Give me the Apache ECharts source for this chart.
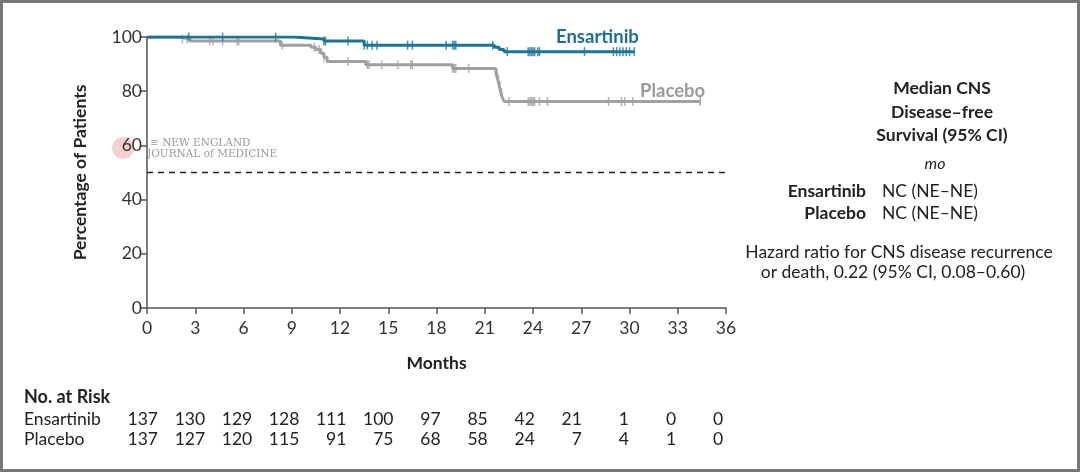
<!DOCTYPE html>
<html>
<head>
<meta charset="utf-8">
<script src="https://cdn.jsdelivr.net/npm/echarts/dist/echarts.min.js"></script>
<style>
  html, body { margin: 0; padding: 0; background: #fff; }
  #chart { width: 1080px; height: 472px; }
</style>
</head>
<body>
<div id="chart"></div>
<script>
// x axis ticks (months)
const months = [0, 3, 6, 9, 12, 15, 18, 21, 24, 27, 30, 33, 36]

// Kaplan-Meier steps: event time (months) and survival (%) after that time
const ensTimes = [0, 9.1, 11.0, 13.5, 21.6, 21.9, 22.2, 30.3]
const ensSurv = [100, 99.3, 98.5, 97.0, 96.2, 95.4, 94.6, 94.6]
const plaTimes = [0, 2.0, 2.7, 8.3, 10.2, 10.5, 10.8, 11.0, 11.2, 13.6, 19.0, 21.7, 21.8, 21.9, 22.0, 22.1, 22.2, 34.4]
const plaSurv = [100, 99.3, 98.5, 97.0, 96.2, 95.4, 94.0, 92.5, 91.0, 89.8, 88.4, 86.5, 84.5, 82.0, 79.5, 77.5, 76.2, 76.2]

// censored observations (months)
const ensCensor = [2.6, 4.7, 8.0, 11.0, 11.1, 12.5, 13.5, 13.7, 14.0, 14.3, 16.2, 16.5, 18.6, 19.0, 19.1, 19.2, 21.5,
  22.4, 23.7, 23.8, 23.9, 24.0, 24.1, 24.3, 24.4, 27.2, 29.0, 29.2, 29.4, 29.6, 29.8, 30.0, 30.3]
const plaCensor = [2.2, 2.5, 3.9, 4.1, 4.7, 5.6, 5.7, 8.4, 10.4, 10.7, 11.0, 12.5, 13.7, 13.8, 14.6, 15.6, 16.4, 16.5,
  19.0, 19.1, 19.2, 20.0, 21.75, 21.85, 21.95, 22.05, 22.5, 23.7, 23.8, 23.9, 24.0, 24.1, 24.4, 24.9, 28.7, 29.5,
  29.7, 30.2, 34.4]

// number at risk
const ensRisk = [137, 130, 129, 128, 111, 100, 97, 85, 42, 21, 1, 0, 0]
const plaRisk = [137, 127, 120, 115, 91, 75, 68, 58, 24, 7, 4, 1, 0]

const BLUE = '#1b759a'
const GREY = '#a0a0a0'
const FONT = 'Lato'
const FS = '17.5px '

// survival value at time t read from the step arrays
function survAt (times, surv, t) {
  let s = surv[0]
  for (let i = 0; i < times.length; i++) {
    if (times[i] <= t) s = surv[i]
  }
  return s
}

const chart = echarts.init(document.getElementById('chart'))

const graphics = []

// frame
graphics.push({
  type: 'rect',
  shape: { x: 1.5, y: 1.5, width: 1077, height: 469 },
  style: { fill: 'none', stroke: '#777', lineWidth: 3 },
  silent: true
})

// watermark
graphics.push({
  type: 'circle',
  shape: { cx: 123, cy: 148, r: 11 },
  style: { fill: 'rgba(225,120,120,0.35)' },
  silent: true
})
graphics.push({ type: 'text', x: 150, y: 143, style: { text: '≡ NEW ENGLAND', font: '10.5px "DejaVu Serif"', fill: '#999', textVerticalAlign: 'middle' } })
graphics.push({ type: 'text', x: 147, y: 154, style: { text: 'JOURNAL of MEDICINE', font: '10.5px "DejaVu Serif"', fill: '#999', textVerticalAlign: 'middle' } })

// series labels
graphics.push({ type: 'text', x: 556, y: 37, style: { text: 'Ensartinib', font: 'bold 18.5px ' + FONT, fill: '#1b6f93', textVerticalAlign: 'middle' } })
graphics.push({ type: 'text', x: 640, y: 91, style: { text: 'Placebo', font: 'bold 18.5px ' + FONT, fill: '#9a9a9a', textVerticalAlign: 'middle' } })

// right panel and table text
const rp = (x, y, text, font, align) => graphics.push({
  type: 'text', x: x, y: y,
  style: { text: text, font: font, fill: '#222', textAlign: align, textVerticalAlign: 'middle' }
})
rp(942, 88, 'Median CNS', 'bold ' + FS + FONT, 'center')
rp(942, 112, 'Disease\u2013free', 'bold ' + FS + FONT, 'center')
rp(942, 135, 'Survival (95% CI)', 'bold ' + FS + FONT, 'center')
rp(935, 164, 'mo', 'italic 16px ' + FONT, 'center')
rp(866, 191, 'Ensartinib', 'bold ' + FS + FONT, 'right')
rp(882, 191, 'NC (NE\u2013NE)', FS + FONT, 'left')
rp(866, 213, 'Placebo', 'bold ' + FS + FONT, 'right')
rp(882, 213, 'NC (NE\u2013NE)', FS + FONT, 'left')
rp(899, 252, 'Hazard ratio for CNS disease recurrence', FS + FONT, 'center')
rp(893, 272, 'or death, 0.22 (95% CI, 0.08\u20130.60)', FS + FONT, 'center')

// number at risk table
rp(24, 397, 'No. at Risk', 'bold 18px ' + FONT, 'left')
rp(24, 419, 'Ensartinib', FS + FONT, 'left')
rp(24, 439, 'Placebo', FS + FONT, 'left')
months.forEach((m, i) => {
  const x = 158 + i * 47.1
  rp(x, 419, String(ensRisk[i]), FS + FONT, 'right')
  rp(x, 439, String(plaRisk[i]), FS + FONT, 'right')
})

const option = {
  backgroundColor: '#fff',
  animation: false,
  textStyle: { fontFamily: FONT },
  grid: { left: 147, right: 354, top: 37, bottom: 164 },
  xAxis: {
    type: 'value',
    min: 0,
    max: 36,
    interval: 3,
    name: 'Months',
    nameLocation: 'middle',
    nameGap: 46,
    nameTextStyle: { fontSize: 17.5, fontWeight: 'bold', color: '#222', fontFamily: FONT },
    axisLine: { show: true, lineStyle: { color: '#555', width: 1.5 } },
    axisTick: { show: true, length: 6, lineStyle: { color: '#555', width: 1.5 } },
    axisLabel: { fontSize: 17.5, color: '#333', margin: 11, fontFamily: FONT },
    splitLine: { show: false }
  },
  yAxis: {
    type: 'value',
    min: 0,
    max: 100,
    interval: 20,
    name: 'Percentage of Patients',
    nameLocation: 'middle',
    nameGap: 58,
    nameTextStyle: { fontSize: 17.5, fontWeight: 'bold', color: '#222', fontFamily: FONT },
    axisLine: { show: true, lineStyle: { color: '#555', width: 1.5 } },
    axisTick: { show: true, length: 6, lineStyle: { color: '#555', width: 1.5 } },
    axisLabel: { fontSize: 17.5, color: '#333', margin: 5, fontFamily: FONT },
    splitLine: { show: false }
  },
  series: [
    {
      name: 'Placebo',
      type: 'line',
      step: 'end',
      symbol: 'none',
      data: plaTimes.map((t, i) => [t, plaSurv[i]]),
      lineStyle: { color: GREY, width: 3 },
      z: 2
    },
    {
      name: 'Placebo censored',
      type: 'scatter',
      symbol: 'rect',
      symbolSize: [1.5, 9],
      data: plaCensor.map(t => [t, survAt(plaTimes, plaSurv, t)]),
      itemStyle: { color: GREY },
      z: 2
    },
    {
      name: 'Ensartinib',
      type: 'line',
      step: 'end',
      symbol: 'none',
      data: ensTimes.map((t, i) => [t, ensSurv[i]]),
      lineStyle: { color: BLUE, width: 3 },
      z: 3,
      markLine: {
        silent: true,
        symbol: 'none',
        label: { show: false },
        lineStyle: { color: '#222', type: [6, 5], width: 1.3 },
        data: [{ yAxis: 50 }]
      }
    },
    {
      name: 'Ensartinib censored',
      type: 'scatter',
      symbol: 'rect',
      symbolSize: [1.5, 9],
      data: ensCensor.map(t => [t, survAt(ensTimes, ensSurv, t)]),
      itemStyle: { color: BLUE },
      z: 3
    }
  ],
  graphic: graphics
}

chart.setOption(option)
</script>
</body>
</html>
